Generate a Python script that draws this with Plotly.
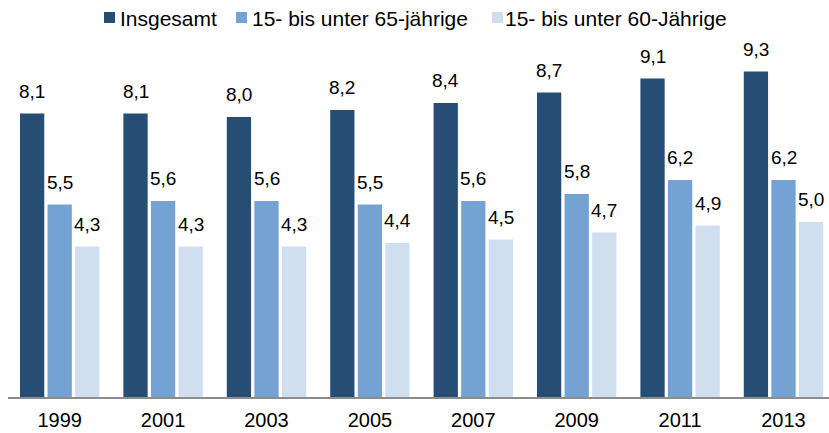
import plotly.graph_objects as go

years = ["1999", "2001", "2003", "2005", "2007", "2009", "2011", "2013"]
insgesamt = [8.1, 8.1, 8.0, 8.2, 8.4, 8.7, 9.1, 9.3]
bis65 = [5.5, 5.6, 5.6, 5.5, 5.6, 5.8, 6.2, 6.2]
bis60 = [4.3, 4.3, 4.3, 4.4, 4.5, 4.7, 4.9, 5.0]

series_names = ["Insgesamt", "15- bis unter 65-jährige", "15- bis unter 60-Jährige"]
series_values = [insgesamt, bis65, bis60]
series_colors = ["#264D73", "#74A3D3", "#CFDFF0"]

W, H = 829, 433
ML, MR, MT, MB = 8, 0, 40, 36
PW, PH = W - ML - MR, H - MT - MB
BARGAP = 0.2
FONT = "Liberation Sans, Arial, sans-serif"


def px_x(p):
    return (p - ML) / PW


def px_y(p):
    return (H - MB - p) / PH


fig = go.Figure()
slot = (1 - BARGAP) / len(series_values)
for k, (name, vals, col) in enumerate(zip(series_names, series_values, series_colors)):
    fig.add_trace(go.Bar(
        x=years, y=vals, name=name,
        marker=dict(color=col, line=dict(width=0)),
        showlegend=False,
        hoverinfo="skip",
    ))
    off = (k - (len(series_values) - 1) / 2) * slot
    for i, v in enumerate(vals):
        fig.add_annotation(
            x=i + off, y=v, xref="x", yref="y",
            text=f"{v:.1f}".replace(".", ","),
            showarrow=False, yanchor="bottom", xanchor="center",
            yshift=10, font=dict(family=FONT, size=19, color="#000000"),
        )

# legend (manual, compact like the original)
legend_marker_px = [104, 236, 492]
legend_text_px = [118, 250, 503]
for name, col, mx, tx in zip(series_names, series_colors, legend_marker_px, legend_text_px):
    fig.add_shape(type="rect", xref="paper", yref="paper",
                  x0=px_x(mx), x1=px_x(mx + 11), y0=px_y(23), y1=px_y(12),
                  fillcolor=col, line=dict(width=0))
    fig.add_annotation(x=px_x(tx), y=px_y(18), xref="paper", yref="paper",
                       text=name, showarrow=False, xanchor="left", yanchor="middle",
                       font=dict(family=FONT, size=21, color="#000000"))

fig.update_layout(
    width=W, height=H,
    margin=dict(l=ML, r=MR, t=MT, b=MB, autoexpand=False),
    paper_bgcolor="white", plot_bgcolor="white",
    barmode="group", bargap=BARGAP, bargroupgap=0.12,
    font=dict(family=FONT, size=20, color="#000000"),
    showlegend=False,
    xaxis=dict(showline=True, linecolor="#8C8C8C", linewidth=2, ticks="",
               tickfont=dict(size=20), showgrid=False, range=[-0.5, 7.44],
               automargin=False, ticklabelstandoff=4, fixedrange=True),
    yaxis=dict(range=[0, 10.2], visible=False, showgrid=False, fixedrange=True),
)

fig.write_html("out.html", config={"displayModeBar": False},
               post_script="document.body.style.margin='0';document.body.style.overflow='hidden';")
